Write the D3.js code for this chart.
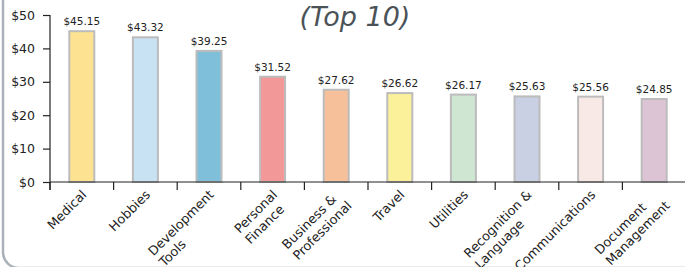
<!DOCTYPE html>
<html>
<head>
<meta charset="utf-8">
<script src="https://cdn.jsdelivr.net/npm/d3@7/dist/d3.min.js"></script>
<style>
  html, body { margin: 0; padding: 0; background: #fff; }
  svg { display: block; font-family: "DejaVu Sans", Verdana, sans-serif; }
</style>
</head>
<body>
<svg id="chart" width="685" height="267"></svg>
<script>
const categories = ["Medical", "Hobbies", "Development\nTools", "Personal\nFinance", "Business &\nProfessional", "Travel", "Utilities", "Recognition &\nLanguage", "Communications", "Document\nManagement"];
const prices = [45.15, 43.32, 39.25, 31.52, 27.62, 26.62, 26.17, 25.63, 25.56, 24.85];
const barColors = ["#fde391", "#c9e2f3", "#80bfda", "#f39898", "#f6c09a", "#fcf19b", "#cfe6d3", "#c9d0e4", "#f8e9e6", "#dcc4d4"];
const yTicks = [0, 10, 20, 30, 40, 50];
const title = "(Top 10)";

const svg = d3.select("#chart");

// page frame (left border with rounded corner)
svg.append("rect")
  .attr("x", 3).attr("y", -30).attr("width", 760).attr("height", 298)
  .attr("rx", 16).attr("ry", 16)
  .attr("fill", "none").attr("stroke", "#aab1b9").attr("stroke-width", 2.5);

const mLeft = 50, mRight = 686, mTop = 15, mBottom = 182;

const x = d3.scaleBand().domain(categories).range([mLeft, mRight]).padding(0);
const y = d3.scaleLinear().domain([0, 50]).range([mBottom, mTop]);

// title
svg.append("text")
  .attr("x", 355).attr("y", 26)
  .attr("text-anchor", "middle")
  .attr("font-size", 27).attr("font-style", "italic")
  .attr("fill", "#4b5358")
  .text(title);

// bars
const bw = 25;
svg.append("g").selectAll("rect").data(prices).join("rect")
  .attr("x", (d, i) => x(categories[i]) + x.bandwidth() / 2 - bw / 2)
  .attr("y", d => y(d))
  .attr("width", bw)
  .attr("height", d => y(0) - y(d))
  .attr("fill", (d, i) => barColors[i])
  .attr("stroke", "#bcbcbc").attr("stroke-width", 2);

// value labels
svg.append("g").selectAll("text").data(prices).join("text")
  .attr("x", (d, i) => x(categories[i]) + x.bandwidth() / 2)
  .attr("y", d => y(d) - 6)
  .attr("text-anchor", "middle")
  .attr("font-size", 10.5).attr("fill", "#222")
  .text(d => "$" + d.toFixed(2));

// y axis
const yAxis = d3.axisLeft(y).tickValues(yTicks).tickSize(7).tickPadding(8)
  .tickFormat(d => "$" + d);
const gy = svg.append("g").attr("transform", `translate(${mLeft},0)`).call(yAxis);
gy.select(".domain").attr("d", `M0,${mTop}V${mBottom + 8}`).attr("stroke", "#222").attr("stroke-width", 1.2);
gy.selectAll(".tick line").attr("stroke", "#222").attr("stroke-width", 1.2);
gy.selectAll(".tick text").attr("font-size", 12.5).attr("font-family", "DejaVu Sans, Verdana, sans-serif").attr("fill", "#222");

// x axis line and ticks at band boundaries
svg.append("line").attr("x1", mLeft).attr("x2", 685).attr("y1", mBottom).attr("y2", mBottom)
  .attr("stroke", "#222").attr("stroke-width", 1.2);
svg.append("g").selectAll("line").data(categories).join("line")
  .attr("x1", d => x(d)).attr("x2", d => x(d))
  .attr("y1", mBottom).attr("y2", mBottom + 8)
  .attr("stroke", "#222").attr("stroke-width", 1.2);

// x labels, rotated, multi-line, left-aligned block ending at band center
const lab = svg.append("g");
categories.forEach((c, i) => {
  const cx = x(c) + x.bandwidth() / 2 - 1;
  const t = lab.append("text")
    .attr("transform", `translate(${cx},${mBottom + 7}) rotate(-45)`)
    .attr("font-size", 12.8).attr("fill", "#222");
  const lines = c.split("\n");
  const spans = lines.map((ln, j) => t.append("tspan").attr("x", 0).attr("dy", j === 0 ? "0.72em" : "1.2em").text(ln));
  const w = d3.max(spans, s => s.node().getComputedTextLength());
  spans.forEach(s => s.attr("x", -w));
});
</script>
</body>
</html>
